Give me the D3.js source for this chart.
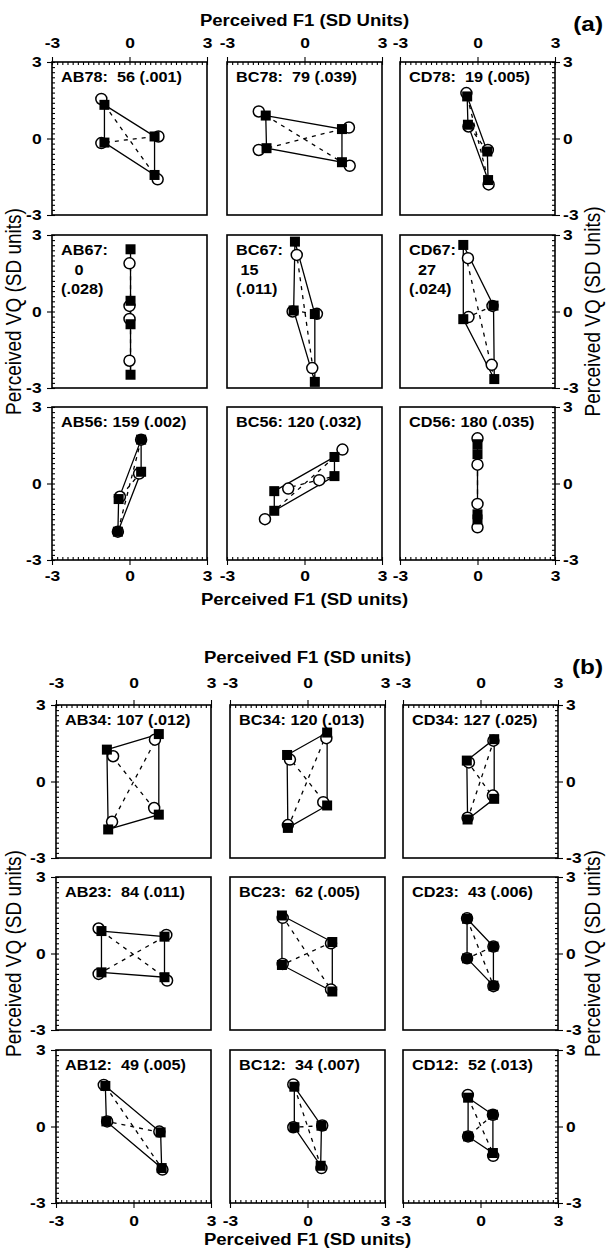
<!DOCTYPE html>
<html>
<head>
<meta charset="utf-8">
<script src="https://cdn.jsdelivr.net/npm/d3@7"></script>
<style>
  body { margin: 0; background: #fff; }
  text { font-family: "Liberation Sans", Arial, sans-serif; fill: #000; }
</style>
</head>
<body>
<div id="chart"></div>
<script>
// ---- data ----
var ticksMajor = [-3, 0, 3];
var ticksMinor = d3.range(-15, 16).map(function(i) { return i / 5; });

// figure (a)
var panelsA = ["AB78", "BC78", "CD78", "AB67", "BC67", "CD67", "AB56", "BC56", "CD56"];
var labelsA = [
  ["AB78:  56 (.001)"], ["BC78:  79 (.039)"], ["CD78:  19 (.005)"],
  ["AB67:", "   0", "(.028)"], ["BC67:", " 15", "(.011)"], ["CD67:", "  27", "(.024)"],
  ["AB56: 159 (.002)"], ["BC56: 120 (.032)"], ["CD56: 180 (.035)"]
];
// squares, in order round the quadrilateral
var squaresA = [
  [[-0.97, 1.32], [0.97, 0.08], [0.97, -1.43], [-0.97, -0.16]],
  [[-1.50, 0.90], [1.45, 0.37], [1.45, -0.93], [-1.47, -0.38]],
  [[-0.40, 1.65], [0.38, -0.51], [0.41, -1.63], [-0.37, 0.54]],
  [[0.04, 2.44], [0.04, 0.42], [0.04, -2.48], [0.04, -0.50]],
  [[-0.37, 2.74], [0.40, -0.10], [0.40, -2.76], [-0.42, 0.04]],
  [[-0.55, 2.61], [0.62, 0.23], [0.65, -2.65], [-0.55, -0.30]],
  [[0.45, 1.72], [0.45, 0.46], [-0.45, -1.89], [-0.42, -0.61]],
  [[-1.17, -0.30], [1.16, 1.04], [1.16, 0.29], [-1.17, -1.07]],
  [[0.00, 1.54], [0.00, 1.15], [0.00, -1.41], [0.00, -1.21]]
];
var circlesA = [
  [[-1.09, 1.55], [1.12, 0.08], [1.09, -1.60], [-1.09, -0.18]],
  [[-1.77, 1.06], [1.72, 0.43], [1.75, -1.07], [-1.77, -0.45]],
  [[-0.43, 1.78], [0.40, -0.45], [0.43, -1.80], [-0.35, 0.47]],
  [[0.00, 1.89], [0.00, 0.22], [0.00, -1.93], [0.00, -0.29]],
  [[-0.30, 2.22], [0.48, -0.09], [0.30, -2.22], [-0.46, 0.00]],
  [[-0.37, 2.09], [0.58, 0.22], [0.55, -2.09], [-0.35, -0.22]],
  [[0.45, 1.72], [0.37, 0.39], [-0.45, -1.89], [-0.37, -0.52]],
  [[-0.63, -0.20], [1.47, 1.33], [0.57, 0.13], [-1.53, -1.40]],
  [[0.00, 1.77], [0.00, 0.74], [0.00, -1.72], [0.00, -0.80]]
];

// figure (b)
var panelsB = ["AB34", "BC34", "CD34", "AB23", "BC23", "CD23", "AB12", "BC12", "CD12"];
var labelsB = [
  ["AB34: 107 (.012)"], ["BC34: 120 (.013)"], ["CD34: 127 (.025)"],
  ["AB23:  84 (.011)"], ["BC23:  62 (.005)"], ["CD23:  43 (.006)"],
  ["AB12:  49 (.005)"], ["BC12:  34 (.007)"], ["CD12:  52 (.013)"]
];
var squaresB = [
  [[-1.03, 1.25], [0.98, 1.86], [0.98, -1.30], [-0.98, -1.88]],
  [[-0.79, 1.04], [0.76, 1.92], [0.76, -0.94], [-0.76, -1.82]],
  [[-0.53, 0.82], [0.53, 1.66], [0.53, -0.68], [-0.50, -1.49]],
  [[-1.24, 0.88], [1.20, 0.66], [1.20, -0.93], [-1.24, -0.74]],
  [[-0.99, 1.49], [0.96, 0.45], [0.96, -1.49], [-0.99, -0.45]],
  [[-0.52, 1.36], [0.50, 0.27], [0.50, -1.26], [-0.52, -0.19]],
  [[-1.09, 1.59], [1.05, -0.23], [1.09, -1.63], [-1.05, 0.20]],
  [[-0.51, 1.56], [0.54, 0.03], [0.51, -1.54], [-0.51, -0.03]],
  [[-0.48, 1.13], [0.48, 0.46], [0.48, -1.04], [-0.48, -0.39]]
];
var circlesB = [
  [[-0.79, 0.99], [0.83, 1.64], [0.80, -1.04], [-0.83, -1.58]],
  [[-0.68, 0.86], [0.73, 1.70], [0.61, -0.81], [-0.76, -1.71]],
  [[-0.45, 0.75], [0.50, 1.60], [0.48, -0.55], [-0.50, -1.42]],
  [[-1.35, 0.98], [1.27, 0.73], [1.30, -1.06], [-1.35, -0.80]],
  [[-0.96, 1.40], [0.91, 0.40], [0.91, -1.41], [-0.96, -0.41]],
  [[-0.52, 1.38], [0.50, 0.27], [0.50, -1.28], [-0.52, -0.19]],
  [[-1.15, 1.63], [1.00, -0.20], [1.12, -1.69], [-1.02, 0.20]],
  [[-0.55, 1.65], [0.57, 0.04], [0.54, -1.63], [-0.55, -0.03]],
  [[-0.49, 1.24], [0.48, 0.46], [0.49, -1.15], [-0.48, -0.39]]
];

// ---- layout ----
var width = 606, height = 1250;
var sx = 1.16; // the scan is a little wider than tall

var svg = d3.select("#chart").append("svg")
    .attr("width", width)
    .attr("height", height);

var figA = {
  names: panelsA, labels: labelsA, squares: squaresA, circles: circlesA,
  cols: [52, 227, 400], rows: [62, 235, 407], w: 155, h: 153,
  topTitle: "Perceived F1 (SD Units)", bottomTitle: "Perceived F1 (SD units)",
  leftTitle: "Perceived VQ (SD units)", rightTitle: "Perceived VQ (SD Units)",
  tag: "(a)", titleY: 26, tagY: 31, bottomTitleY: 605, padTop: 9, padBottom: 5
};
var figB = {
  names: panelsB, labels: labelsB, squares: squaresB, circles: circlesB,
  cols: [56, 230, 403], rows: [705, 877, 1050], w: 155, h: 153,
  topTitle: "Perceived F1 (SD units)", bottomTitle: "Perceived F1 (SD units)",
  leftTitle: "Perceived VQ (SD units)", rightTitle: "Perceived VQ (SD units)",
  tag: "(b)", titleY: 663, tagY: 674, bottomTitleY: 1245, padTop: 12, padBottom: 7
};

function clean(g) {
  g.select(".domain").remove();
  g.attr("font-family", null).attr("font-size", null);
  g.selectAll("line").attr("stroke", "#000").attr("stroke-width", 1.1);
}

// one edge of a panel: inward minor ticks, outward major ticks with labels
function edge(p, makeAxis, scale, tr, pad) {
  p.append("g").attr("transform", tr)
    .call(makeAxis(scale).tickValues(ticksMinor).tickSize(-3).tickFormat(""))
    .call(clean);
  var ax = p.append("g").attr("transform", tr)
    .call(makeAxis(scale).tickValues(ticksMajor).tickSize(5).tickPadding(pad)
      .tickFormat(function(d) { return String(d); }))
    .call(clean);
  ax.selectAll("text")
    .attr("font-size", 15)
    .attr("font-weight", "bold")
    .attr("transform", "scale(" + sx + ",1)");
}

function drawFigure(f) {
  var fig = svg.append("g");
  var line = d3.line()
      .x(function(d) { return d.x; })
      .y(function(d) { return d.y; });
  var loop = d3.line()
      .x(function(d) { return d.x; })
      .y(function(d) { return d.y; })
      .curve(d3.curveLinearClosed);

  f.names.forEach(function(name, i) {
    var c = i % 3, r = Math.floor(i / 3);
    var left = f.cols[c], top = f.rows[r];
    var x = d3.scaleLinear().domain([-3, 3]).range([left, left + f.w]);
    var y = d3.scaleLinear().domain([-3, 3]).range([top + f.h, top]);
    var p = fig.append("g").attr("class", "panel " + name);

    p.append("rect")
      .attr("x", left).attr("y", top)
      .attr("width", f.w).attr("height", f.h)
      .attr("fill", "none").attr("stroke", "#000").attr("stroke-width", 1.6);

    if (r === 0) edge(p, d3.axisTop, x, "translate(0," + top + ")", f.padTop);
    if (r === 2) edge(p, d3.axisBottom, x, "translate(0," + (top + f.h) + ")", f.padBottom);
    if (c === 0) edge(p, d3.axisLeft, y, "translate(" + left + ",0)", 4);
    if (c === 2) edge(p, d3.axisRight, y, "translate(" + (left + f.w) + ",0)", 2);

    var sq = f.squares[i].map(function(d) { return { x: x(d[0]), y: y(d[1]) }; });
    var ci = f.circles[i].map(function(d) { return { x: x(d[0]), y: y(d[1]) }; });

    p.append("path")
      .attr("d", line([sq[0], sq[2]]) + line([sq[1], sq[3]]))
      .attr("fill", "none").attr("stroke", "#000")
      .attr("stroke-width", 1.3).attr("stroke-dasharray", "4,5");
    p.append("path")
      .attr("d", loop(sq))
      .attr("fill", "none").attr("stroke", "#000").attr("stroke-width", 1.3);

    p.selectAll("circle").data(ci).enter().append("circle")
      .attr("cx", function(d) { return d.x; })
      .attr("cy", function(d) { return d.y; })
      .attr("r", 5.5)
      .attr("fill", "#fff").attr("stroke", "#000").attr("stroke-width", 1.5);
    p.selectAll("rect.sq").data(sq).enter().append("rect")
      .attr("class", "sq")
      .attr("x", function(d) { return d.x - 5; })
      .attr("y", function(d) { return d.y - 5; })
      .attr("width", 10).attr("height", 10)
      .attr("fill", "#000");

    f.labels[i].forEach(function(s, k) {
      p.append("text")
        .attr("transform", "translate(" + (left + 9) + "," + (top + 20 + k * 19.5) + ") scale(" + sx + ",1)")
        .attr("font-size", 14).attr("font-weight", "bold")
        .style("white-space", "pre")
        .text(s);
    });
  });

  var midX = f.cols[1] + f.w / 2;
  var midY = f.rows[1] + f.h / 2;
  fig.append("text")
    .attr("transform", "translate(" + midX + "," + f.titleY + ") scale(" + sx + ",1)")
    .attr("text-anchor", "middle").attr("font-size", 16).attr("font-weight", "bold")
    .text(f.topTitle);
  fig.append("text")
    .attr("transform", "translate(" + midX + "," + f.bottomTitleY + ") scale(" + sx + ",1)")
    .attr("text-anchor", "middle").attr("font-size", 16).attr("font-weight", "bold")
    .text(f.bottomTitle);
  fig.append("text")
    .attr("transform", "translate(603," + f.tagY + ") scale(" + sx + ",1)")
    .attr("text-anchor", "end").attr("font-size", 21).attr("font-weight", "bold")
    .text(f.tag);
  fig.append("text")
    .attr("transform", "translate(21," + midY + ") rotate(-90) scale(1," + sx + ")")
    .attr("text-anchor", "middle").attr("font-size", 19)
    .text(f.leftTitle);
  fig.append("text")
    .attr("transform", "translate(600," + midY + ") rotate(-90) scale(1," + sx + ")")
    .attr("text-anchor", "middle").attr("font-size", 19)
    .text(f.rightTitle);
}

drawFigure(figA);
drawFigure(figB);
</script>
</body>
</html>
